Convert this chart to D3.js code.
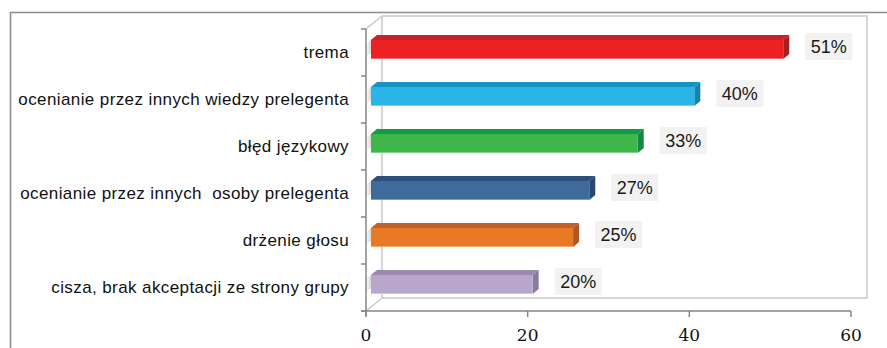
<!DOCTYPE html>
<html lang="pl">
<head>
<meta charset="UTF-8">
<title>Wykres</title>
<script src="https://d3js.org/d3.v7.min.js"></script>
<style>
  body { margin: 0; background: #fff; }
  svg { display: block; }
  .cat { font-family: "Liberation Sans", Arial, sans-serif; font-size: 17px; fill: #111; white-space: pre; letter-spacing: 0.4px; }
  .val { font-family: "Liberation Sans", Arial, sans-serif; font-size: 18px; fill: #1a1a1a; }
  .tick-x { font-family: "DejaVu Serif", serif; font-size: 17px; fill: #111; }
</style>
</head>
<body>
<script>
  const categories = [
    "trema",
    "ocenianie przez innych wiedzy prelegenta",
    "błęd językowy",
    "ocenianie przez innych  osoby prelegenta",
    "drżenie głosu",
    "cisza, brak akceptacji ze strony grupy"
  ];
  const values = [51, 40, 33, 27, 25, 20];
  const valueLabels = ["51%", "40%", "33%", "27%", "25%", "20%"];
  const xTicks = [0, 20, 40, 60];
  // front, top, side
  const colors = [
    ["#ed2024", "#c9202a", "#a61d22"],
    ["#29b5e8", "#1793c3", "#1184b0"],
    ["#3eb64a", "#119c48", "#128a40"],
    ["#3f6a9c", "#2d4f7a", "#284870"],
    ["#e87a25", "#c2612a", "#b05622"],
    ["#b8a6cc", "#9b89ae", "#8b7a9f"]
  ];

  const width = 887, height = 348;
  const svg = d3.select("body").append("svg")
    .attr("width", width).attr("height", height);

  const x = d3.scaleLinear().domain([0, 60]).range([366, 851]);
  const y = d3.scaleBand().domain(categories).range([29, 311]);

  const wallDx = 16, wallDy = -13;   // depth of the chart box
  const barOff = [5, -3];            // bar front face offset from front plane
  const depth = [6, -5];             // bar thickness in depth
  const barH = 19;

  // outer frame
  svg.append("path")
    .attr("d", "M10.5,348 V12.5 H887")
    .attr("fill", "none").attr("stroke", "#8c8c8c").attr("stroke-width", 1.6);

  // side wall shading
  const defs = svg.append("defs");
  const g = defs.append("linearGradient").attr("id", "wallShade")
    .attr("x1", 0).attr("x2", 1).attr("y1", 0).attr("y2", 0);
  g.append("stop").attr("offset", 0).attr("stop-color", "#ffffff");
  g.append("stop").attr("offset", 0.35).attr("stop-color", "#bdbdbd");
  g.append("stop").attr("offset", 1).attr("stop-color", "#ffffff");

  const x0 = x(0);
  categories.forEach((c, i) => {
    const cy = y(c) + y.bandwidth() / 2 + barOff[1];
    const t = cy - barH / 2 - 2, b = cy + barH / 2 - 2;
    svg.append("path")
      .attr("d", `M${x0},${t + 6} L${x0 + wallDx},${t + wallDy + 6} L${x0 + wallDx},${b + wallDy} L${x0},${b} Z`)
      .attr("fill", "url(#wallShade)").attr("opacity", 0.7);
  });

  // back wall and side wall edges
  const wall = svg.append("g").attr("fill", "none").attr("stroke", "#c9c9c9").attr("stroke-width", 1.5);
  const yTop = y.range()[0], yBot = y.range()[1];
  wall.append("path")
    .attr("d", `M${x0},${yTop} L${x0 + wallDx},${yTop + wallDy} H${x(60) + wallDx} V${yBot + wallDy} H${x0 + wallDx} V${yTop + wallDy}`);
  wall.append("path")
    .attr("d", `M${x0},${yBot} L${x0 + wallDx},${yBot + wallDy}`);

  // axes
  const axisColor = "#868686";
  const ax = svg.append("g").attr("stroke", axisColor).attr("stroke-width", 1.5).attr("fill", "none");
  ax.append("line").attr("x1", x0).attr("x2", x0).attr("y1", yTop).attr("y2", yBot + 5);
  ax.append("line").attr("x1", x0 - 5).attr("x2", x(60)).attr("y1", yBot).attr("y2", yBot);
  // category ticks
  d3.range(categories.length + 1).forEach(i => {
    const yy = yTop + i * y.step();
    ax.append("line").attr("x1", x0 - 5).attr("x2", x0).attr("y1", yy).attr("y2", yy);
  });
  // value ticks
  xTicks.forEach(v => {
    ax.append("line").attr("x1", x(v)).attr("x2", x(v)).attr("y1", yBot).attr("y2", yBot + 6);
    svg.append("text").attr("class", "tick-x")
      .attr("x", x(v)).attr("y", yBot + 30)
      .attr("text-anchor", "middle").text(v);
  });

  // category labels
  categories.forEach(c => {
    svg.append("text").attr("class", "cat")
      .attr("x", 349).attr("y", y(c) + y.bandwidth() / 2)
      .attr("dy", "0.35em").attr("text-anchor", "end").text(c);
  });

  // 3D bars
  categories.forEach((c, i) => {
    const [front, top, side] = colors[i];
    const xa = x(0) + barOff[0], xb = x(values[i]) + barOff[0];
    const cy = y(c) + y.bandwidth() / 2 + barOff[1];
    const t = cy - barH / 2, b = cy + barH / 2;
    const [dx, dy] = depth;
    const bar = svg.append("g");
    bar.append("path")
      .attr("d", `M${xa},${t} L${xa + dx},${t + dy} L${xb + dx},${t + dy} L${xb},${t} Z`)
      .attr("fill", top);
    bar.append("path")
      .attr("d", `M${xb},${t} L${xb + dx},${t + dy} L${xb + dx},${b + dy} L${xb},${b} Z`)
      .attr("fill", side);
    bar.append("rect")
      .attr("x", xa).attr("y", t).attr("width", xb - xa).attr("height", barH)
      .attr("fill", front);
    bar.append("line")
      .attr("x1", xa).attr("x2", xb).attr("y1", b - 0.5).attr("y2", b - 0.5)
      .attr("stroke", "#ffffff").attr("stroke-opacity", 0.35);

    // value label with box
    const lx = xb + 22, bw = 47, bh = 27;
    const ly = cy - 3;
    svg.append("rect")
      .attr("x", lx).attr("y", ly - bh / 2).attr("width", bw).attr("height", bh)
      .attr("fill", "#f2f2f2");
    svg.append("text").attr("class", "val")
      .attr("x", lx + bw / 2).attr("y", ly).attr("dy", "0.36em")
      .attr("text-anchor", "middle").text(valueLabels[i]);
  });
</script>
</body>
</html>
